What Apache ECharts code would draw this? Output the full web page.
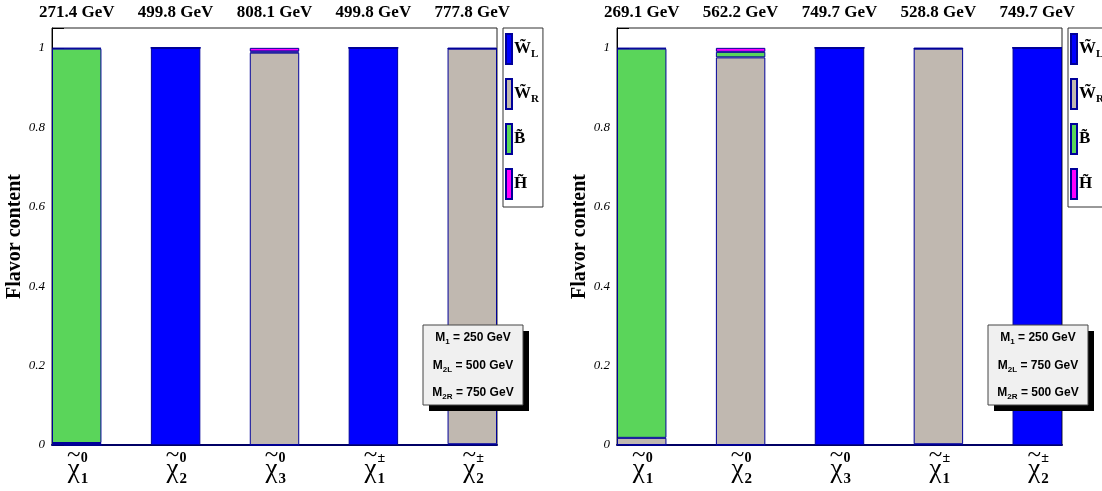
<!DOCTYPE html>
<html><head><meta charset="utf-8">
<script src="https://cdn.jsdelivr.net/npm/echarts@6/dist/echarts.min.js"></script>
<style>html,body{margin:0;padding:0;background:#fff}#c{width:1102px;height:491px}</style>
</head><body><div id="c"></div>
<script>
// ---------- data ----------
const componentNames = ['WL', 'WR', 'B', 'H'];
const componentColors = ['#0000ff', '#c0b8b0', '#5ad55a', '#ff00ff'];
const particleBase = ['χ', 'χ', 'χ', 'χ', 'χ'];
const particleSup = ['0', '0', '0', '±', '±'];
const particleSub = ['1', '2', '3', '1', '2'];
const massesA = ['271.4 GeV', '499.8 GeV', '808.1 GeV', '499.8 GeV', '777.8 GeV'];
const massesB = ['269.1 GeV', '562.2 GeV', '749.7 GeV', '528.8 GeV', '749.7 GeV'];
// panel A (M1=250, M2L=500, M2R=750)
const WL_A = [0.000, 1.000, 0.000, 1.000, 0.002];
const WR_A = [0.005, 0.000, 0.988, 0.000, 0.996];
const B_A  = [0.993, 0.000, 0.003, 0.000, 0.000];
const H_A  = [0.002, 0.000, 0.009, 0.000, 0.002];
// panel B (M1=250, M2L=750, M2R=500)
const WL_B = [0.000, 0.000, 1.000, 0.002, 1.000];
const WR_B = [0.018, 0.976, 0.000, 0.996, 0.000];
const B_B  = [0.980, 0.014, 0.000, 0.000, 0.000];
const H_B  = [0.002, 0.010, 0.000, 0.002, 0.000];
const paramLabels = ['1', '2L', '2R'];
const paramsA = ['250 GeV', '500 GeV', '750 GeV'];
const paramsB = ['250 GeV', '750 GeV', '500 GeV'];
const yMin = 0, yMax = 1.05, yStep = 0.2;

// ---------- helpers ----------
const SERIF = '"Liberation Serif", "DejaVu Serif", serif';
const SANS = '"Liberation Sans", Arial, sans-serif';
function spread(arr) { // 5 particles -> 9 slots with empty gaps
  const out = [];
  arr.forEach((v, i) => { out.push(v); if (i < arr.length - 1) out.push('-'); });
  return out;
}
const slots = spread(particleSub.map((s, i) => 'p' + i)).map((v, i) => v === '-' ? 'g' + i : v);

const grids = [
  { left: 52, top: 28, width: 445, height: 417 },
  { left: 617, top: 28, width: 445, height: 417 }
];
const panelData = [[WL_A, WR_A, B_A, H_A], [WL_B, WR_B, B_B, H_B]];
const panelMasses = [massesA, massesB];

const xAxes = [], yAxes = [], series = [];
grids.forEach((g, gi) => {
  xAxes.push({
    gridIndex: gi, type: 'category', data: slots, position: 'bottom',
    axisLine: { show: true, onZero: false, lineStyle: { color: '#000066', width: 2 } },
    axisTick: { show: false }, axisLabel: { show: false }
  });
  xAxes.push({
    gridIndex: gi, type: 'category', data: slots, position: 'top',
    axisLine: { show: false }, axisTick: { show: false },
    axisLabel: {
      show: true, interval: 0, margin: 7, color: '#000',
      fontFamily: SERIF, fontWeight: 'bold', fontSize: 17,
      formatter: (v, i) => (i % 2 === 0 ? panelMasses[gi][i / 2] : '')
    }
  });
  yAxes.push({
    gridIndex: gi, type: 'value', min: yMin, max: yMax, interval: yStep,
    axisLine: { show: true, lineStyle: { color: '#000', width: 1 } },
    axisTick: { show: true, inside: true, length: 12, lineStyle: { color: '#000' } },
    minorTick: { show: true, splitNumber: 4, length: 7, lineStyle: { color: '#000' } },
    splitLine: { show: false },
    axisLabel: {
      showMaxLabel: false, color: '#000', fontFamily: SERIF, fontStyle: 'italic',
      fontSize: 13, margin: 7
    },
    name: 'Flavor content', nameLocation: 'middle', nameGap: 26,
    nameTextStyle: { color: '#000', fontFamily: SERIF, fontWeight: 'bold', fontSize: 20 }
  });
  componentNames.forEach((name, ci) => {
    series.push({
      name, type: 'bar', stack: 'st' + gi,
      xAxisIndex: gi * 2, yAxisIndex: gi,
      barWidth: '100%', barCategoryGap: '0%',
      data: spread(panelData[gi][ci]),
      itemStyle: { color: componentColors[ci], borderColor: '#000099', borderWidth: 1 },
      emphasis: { disabled: true }
    });
  });
});

const legendRich = {
  m: { fontFamily: SERIF, fontWeight: 'bold', fontSize: 17, color: '#000', lineHeight: 22, padding: [0, 0, 0, -3] },
  s: { fontFamily: SERIF, fontWeight: 'bold', fontSize: 11, color: '#000', lineHeight: 12, verticalAlign: 'bottom' }
};
const legendText = { WL: '{m|W\u0303}{s|L}', WR: '{m|W\u0303}{s|R}', B: '{m|B\u0303}', H: '{m|H\u0303}' };
const legends = [503, 1068].map(left => ({
  left, top: 28, orient: 'vertical', icon: 'rect',
  itemWidth: 6, itemHeight: 30, itemGap: 13,
  padding: [5, 4, 7, 2], borderColor: '#333', borderWidth: 1, backgroundColor: '#fff',
  data: componentNames, selectedMode: false,
  formatter: n => legendText[n], textStyle: { rich: legendRich }
}));

const chart = echarts.init(document.getElementById('c'), null, { renderer: 'canvas' });
chart.setOption({
  animation: false, backgroundColor: '#fff',
  grid: grids.map(g => Object.assign({ show: true, borderColor: '#222', borderWidth: 1, backgroundColor: 'transparent' }, g)),
  xAxis: xAxes, yAxis: yAxes, series, legend: legends
});

// ---------- graphics: particle labels & parameter boxes ----------
const graphics = [];
grids.forEach((g, gi) => {
  particleSub.forEach((sub, i) => {
    const p = chart.convertToPixel({ gridIndex: gi }, [2 * i, 0]);
    const cx = p[0], y0 = p[1];
    graphics.push({ type: 'text', x: cx - 3, y: y0 + 25, z: 100, silent: true,
      style: { text: particleBase[i], fontFamily: SERIF, fontSize: 27, fill: '#000', align: 'center', verticalAlign: 'middle' } });
    graphics.push({ type: 'text', x: cx - 3, y: y0 + 10, z: 100, silent: true,
      style: { text: '~', fontFamily: SERIF, fontSize: 25, fill: '#000', align: 'center', verticalAlign: 'middle' } });
    graphics.push({ type: 'text', x: cx + 4, y: y0 + 13, z: 100, silent: true,
      style: { text: particleSup[i], fontFamily: SERIF, fontWeight: 'bold', fontSize: 14, fill: '#000', align: 'left', verticalAlign: 'middle' } });
    graphics.push({ type: 'text', x: cx + 4, y: y0 + 34, z: 100, silent: true,
      style: { text: sub, fontFamily: SERIF, fontWeight: 'bold', fontSize: 15, fill: '#000', align: 'left', verticalAlign: 'middle' } });
  });
  const bx = gi === 0 ? 423 : 988, by = 325, bw = 100, bh = 80;
  const vals = gi === 0 ? paramsA : paramsB;
  const children = [
    { type: 'rect', z: 100, shape: { x: 6, y: 6, width: bw, height: bh }, style: { fill: '#000' } },
    { type: 'rect', z: 101, shape: { x: 0, y: 0, width: bw, height: bh }, style: { fill: '#f0f0f0', stroke: '#444', lineWidth: 1 } }
  ];
  paramLabels.forEach((pl, k) => {
    children.push({ type: 'text', z: 102, x: bw / 2, y: 13 + k * 27.5,
      style: {
        text: '{m|M}{s|' + pl + '}{m| = ' + vals[k] + '}', align: 'center', verticalAlign: 'middle',
        fill: '#000',
        rich: {
          m: { fontFamily: SANS, fontWeight: 'bold', fontSize: 12, fill: '#000', lineHeight: 16 },
          s: { fontFamily: SANS, fontWeight: 'bold', fontSize: 8, fill: '#000', lineHeight: 8, verticalAlign: 'bottom' }
        }
      } });
  });
  graphics.push({ type: 'group', x: bx, y: by, z: 100, silent: true, children });
});
chart.setOption({ graphic: graphics });
</script></body></html>
